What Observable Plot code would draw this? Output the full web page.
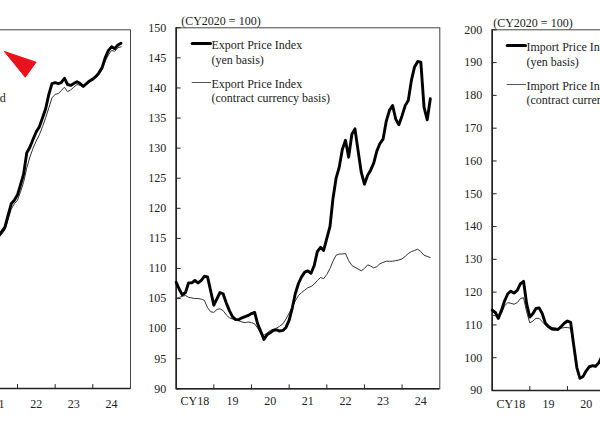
<!DOCTYPE html>
<html><head><meta charset="utf-8">
<script src="https://cdn.jsdelivr.net/npm/d3@7"></script>
<script src="https://cdn.jsdelivr.net/npm/@observablehq/plot@0.6"></script>
<style>
html,body{margin:0;padding:0;background:#fff;}
#wrap{position:relative;width:600px;height:430px;overflow:hidden;background:#fff;}
#wrap svg{position:absolute;top:0;max-width:none;background:transparent;overflow:visible;}
</style></head><body><div id="wrap"></div>
<script>
// ---- tick labels ----
const yearLabels = ["CY18","19","20","21","22","23","24"];
const leftPanelLabels = ["21","22","23","24"];
const rightPanelLabels = ["CY18","19","20"];
const exportTicks = [90,95,100,105,110,115,120,125,130,135,140,145,150];
const importTicks = [90,100,110,120,130,140,150,160,170,180,190,200];
const titleText = "(CY2020 = 100)";
const exportLegend = ["Export Price Index\n(yen basis)", "Export Price Index\n(contract currency basis)"];
const importLegend = ["Import Price Index\n(yen basis)", "Import Price Index\n(contract currency basis)"];
const leftLegendTail = "adjusted";

// ---- series values (monthly, Jan 2018 = month 0) ----
const exportYen = [107.7,106.5,105.6,106.0,107.6,107.6,108.0,107.6,108.0,108.7,108.6,106.3,
 103.9,105.0,106.0,105.8,104.3,103.0,102.0,101.5,101.5,101.8,102.0,102.2,
 102.5,102.7,100.8,99.5,98.2,99.0,99.3,99.7,99.8,99.6,99.7,100.2,
 101.4,103.5,105.8,107.5,108.6,109.4,109.6,109.2,110.5,112.8,113.5,113.0,
 115.0,117.0,121.5,125.0,126.8,129.8,131.3,128.5,132.3,133.2,129.5,126.0,
 124.0,125.5,126.3,127.5,129.5,130.8,131.5,134.5,136.3,137.1,134.8,133.9,
 135.4,137.1,137.9,141.3,143.5,144.4,144.3,136.8,134.7,138.2];
const exportContract = [105.0,105.2,105.4,105.5,105.2,105.1,105.0,105.0,104.9,104.7,103.5,102.8,
 102.7,103.2,103.3,103.0,102.3,101.8,101.6,101.4,101.3,101.1,101.0,101.1,
 101.0,100.8,100.1,99.2,98.9,99.3,99.7,99.9,100.1,100.4,100.8,101.6,
 102.6,103.6,104.6,105.5,106.0,106.4,106.8,107.0,107.4,108.0,108.5,108.3,
 109.0,110.0,111.2,112.2,112.4,112.4,112.5,111.3,110.5,110.2,109.9,109.6,
 110.0,110.6,110.4,110.1,110.3,110.8,111.0,111.2,111.2,111.2,111.3,111.4,
 111.6,112.0,112.5,112.8,113.0,113.2,112.8,112.2,112.0,111.8];
const importYen = [114.5,113.8,112.0,114.5,117.3,119.5,120.3,119.7,120.5,122.5,123.3,116.5,
 112.4,113.5,115.0,115.2,113.5,110.5,109.5,108.9,108.8,108.6,109.5,110.5,
 111.2,110.8,104.0,97.0,93.7,94.3,96.0,97.3,97.6,97.4,98.5,100.5];
const importContract = [113.0,112.8,111.8,113.5,115.8,116.8,116.6,116.3,116.8,118.0,118.3,114.0,
 110.6,111.2,112.0,112.0,111.0,110.0,109.0,108.4,108.3,108.6,109.0,109.2,
 109.2,109.0,103.5,97.0,94.0,94.6,96.0,97.0,97.3,97.2,98.3,100.2];
// left panel (visible part starts at month 42 = Jul 2021)
const leftStartMonth = 42;
const leftThick = [107.0,107.5,108.0,109.3,110.6,111.0,111.6,112.8,113.9,116.3,116.9,117.8,118.6,119.2,120.2,121.2,122.8,124.0,124.1,124.0,
 124.1,124.6,123.9,123.8,124.0,124.2,124.0,123.7,124.0,124.3,124.5,124.8,125.2,125.8,126.9,127.7,128.1,127.9,128.3,128.5];
const leftThin = [106.8,107.2,107.7,108.8,110.0,110.6,111.0,112.0,113.0,114.6,115.8,116.8,117.6,118.3,119.2,120.2,121.3,122.4,122.8,122.9,
 123.2,123.6,123.1,123.3,123.6,123.9,123.8,123.6,123.9,124.2,124.4,124.7,125.0,125.6,126.5,127.2,127.7,127.6,128.0,128.1];
// red arrow-head annotation in the left panel (month, value)
const arrowMonths = [43.85, 53.95, 50.54, 43.85];
const arrowValues = [127.58, 126.39, 124.71, 127.58];

// ---- helpers ----
const monthDate = m => new Date(Date.UTC(2018, Math.floor(m), 1) + (m - Math.floor(m)) * 30.44 * 864e5);
const series = (start, vals) => vals.map((v, i) => ({date: monthDate(start + i), value: v}));
const xDomain = [new Date(Date.UTC(2018,0,1)), new Date(Date.UTC(2025,0,1))];
const yearTicks = d3.range(2019, 2025).map(y => new Date(Date.UTC(y,0,1)));
const labelDate = lab => new Date(Date.UTC(2018 + yearLabels.indexOf(lab), 6, 1));
const seg = {draw(ctx, l) { ctx.moveTo(0, 0); ctx.lineTo(0, -l); }};
const FONT = "'Liberation Serif', 'Times New Roman', serif";

function panel(c) {
  const y0 = c.yDomain[0];
  const marks = [
    Plot.frame({stroke: "#444", strokeWidth: 1}),
    Plot.ruleY([y0], {stroke: "#222", strokeWidth: 1.6}),
    Plot.ruleX([xDomain[0]], {stroke: "#222", strokeWidth: 1.6}),
    Plot.vector(yearTicks, {x: d => d, y: y0, length: 4, rotate: 0, anchor: "start", shape: seg, stroke: "#222", strokeWidth: 1}),
    Plot.axisX({ticks: c.labels.map(labelDate), tickSize: 0, tickPadding: c.xPad, label: null,
      tickFormat: d => yearLabels[d.getUTCFullYear() - 2018], fontSize: 12, fill: "#222"})
  ];
  if (c.yTicks) {
    marks.push(Plot.axisY({ticks: c.yTicks, tickSize: 0, tickPadding: 10, label: null, tickFormat: d => String(d), fontSize: 12, fill: "#222"}));
    marks.push(Plot.vector(c.yTicks, {x: xDomain[0], y: d => d, length: 4, rotate: 90, anchor: "start", shape: seg, stroke: "#222", strokeWidth: 1}));
  }
  if (c.title) marks.push(Plot.text([c.title], {text: d => d, frameAnchor: "top-left", dx: c.titleDx, dy: -7, textAnchor: "start", lineAnchor: "middle", fontSize: 12, fill: "#222"}));
  if (c.extra) marks.push(...c.extra);
  marks.push(Plot.line(series(c.start, c.thin), {x: "date", y: "value", stroke: "#333", strokeWidth: 1}));
  marks.push(Plot.line(series(c.start, c.thick), {x: "date", y: "value", stroke: "#000", strokeWidth: 2.9, strokeLinejoin: "round"}));
  if (c.legend) {
    marks.push(Plot.vector([0], {frameAnchor: "top-left", dx: c.legDx, dy: 15.7, rotate: 90, length: 18.3, anchor: "start", shape: seg, stroke: "#000", strokeWidth: 3}));
    marks.push(Plot.vector([0], {frameAnchor: "top-left", dx: c.legDx, dy: 54.7, rotate: 90, length: 18.3, anchor: "start", shape: seg, stroke: "#555", strokeWidth: 1.2}));
    marks.push(Plot.text([c.legend[0]], {text: d => d, frameAnchor: "top-left", dx: c.legDx + 19.3, dy: 24.2, textAnchor: "start", lineAnchor: "middle", lineHeight: 1.22, fontSize: 12, fill: "#222"}));
    marks.push(Plot.text([c.legend[1]], {text: d => d, frameAnchor: "top-left", dx: c.legDx + 19.3, dy: 62.7, textAnchor: "start", lineAnchor: "middle", lineHeight: 1.2, fontSize: 12, fill: "#222"}));
  }
  return Plot.plot({
    width: c.width, height: 430,
    marginLeft: c.mL, marginRight: c.mR, marginTop: c.mT, marginBottom: c.mB,
    x: {type: "utc", domain: xDomain, axis: null, label: null},
    y: {domain: c.yDomain, axis: null, label: null},
    style: {position: "absolute", left: c.left + "px", top: "0px", fontFamily: FONT, fontSize: "12px", color: "#222", background: "none", maxWidth: "none", overflow: "visible"},
    marks
  });
}

const wrap = document.getElementById("wrap");
// left (cropped) panel
wrap.appendChild(panel({
  left: -180, width: 320, mL: 46.4, mR: 10, mT: 29.3, mB: 42, xPad: 11,
  labels: leftPanelLabels,
  yDomain: [90, 130], start: leftStartMonth, thick: leftThick, thin: leftThin,
  extra: [
    Plot.line(arrowMonths.map((m, i) => ({date: monthDate(m), value: arrowValues[i]})), {x: "date", y: "value", fill: "#e8121c", stroke: "#e8121c", strokeWidth: 1}),
    Plot.text([leftLegendTail], {text: d => d, frameAnchor: "top-left", dx: 138.8, dy: 68, textAnchor: "end", lineAnchor: "middle", fontSize: 12, fill: "#222"})
  ]
}));
// middle panel: export prices
wrap.appendChild(panel({
  left: 130, width: 320, mL: 45.7, mR: 10.7, mT: 27.3, mB: 41.7, xPad: 8,
  labels: yearLabels,
  yDomain: [90, 150], yTicks: exportTicks, start: 0, thick: exportYen, thin: exportContract,
  title: titleText, titleDx: 5, legend: exportLegend, legDx: 16
}));
// right (cropped) panel: import prices
wrap.appendChild(panel({
  left: 446, width: 320, mL: 45.7, mR: 10.7, mT: 29.3, mB: 40, xPad: 9,
  labels: rightPanelLabels,
  yDomain: [90, 200], yTicks: importTicks, start: 0, thick: importYen, thin: importContract,
  title: titleText, titleDx: 1, legend: importLegend, legDx: 15
}));
</script></body></html>
